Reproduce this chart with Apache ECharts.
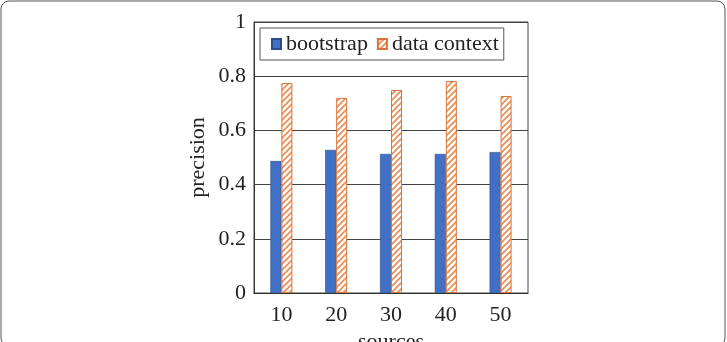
<!DOCTYPE html>
<html>
<head>
<meta charset="utf-8">
<script src="https://cdn.jsdelivr.net/npm/echarts@6/dist/echarts.min.js"></script>
<style>
html, body { margin: 0; padding: 0; background: #fff; }
#chart { width: 727px; height: 342px; }
</style>
</head>
<body>
<div id="chart"></div>
<script>
// data
var sources = ['10', '20', '30', '40', '50'];
var bootstrap = [0.487, 0.528, 0.513, 0.513, 0.520];
var dataContext = [0.775, 0.720, 0.749, 0.782, 0.727];
var yTicks = [0, 0.2, 0.4, 0.6, 0.8, 1];

var FONT = '"Liberation Serif", "DejaVu Serif", serif';

function hatchPattern() {
	var c = document.createElement('canvas');
	c.width = 6;
	c.height = 6;
	var ctx = c.getContext('2d');
	ctx.fillStyle = '#ffffff';
	ctx.fillRect(0, 0, 6, 6);
	ctx.strokeStyle = '#ee8a4e';
	ctx.lineWidth = 1.6;
	ctx.beginPath();
	ctx.moveTo(-1, 7); ctx.lineTo(7, -1);
	ctx.moveTo(-4, 4); ctx.lineTo(4, -4);
	ctx.moveTo(2, 10); ctx.lineTo(10, 2);
	ctx.stroke();
	return c;
}

var chart = echarts.init(document.getElementById('chart'));
var option = {
	animation : false,
	graphic : [ {
		type : 'rect',
		shape : { x : 1, y : 1, width : 724, height : 345, r : 8 },
		style : { fill : 'none', stroke : '#555', lineWidth : 1 },
		silent : true
	} ],
	legend : {
		left : 260,
		top : 28,
		padding : [ 5, 5, 5, 11 ],
		borderColor : '#555',
		borderWidth : 1,
		icon : 'rect',
		itemWidth : 9,
		itemHeight : 10,
		itemGap : 9,
		textStyle : { fontFamily : FONT, fontSize : 22, color : '#222' },
		data : [ 'bootstrap', 'data context' ]
	},
	grid : {
		left : 254,
		right : 199,
		top : 22,
		bottom : 49,
		outerBoundsMode : 'none',
		containLabel : false,
		show : true,
		borderColor : '#444',
		borderWidth : 1
	},
	xAxis : {
		type : 'category',
		data : sources,
		name : 'sources',
		nameLocation : 'middle',
		nameGap : 38,
		nameTextStyle : { fontFamily : FONT, fontSize : 22, color : '#222', verticalAlign : 'top' },
		nameMoveOverlap : false,
		axisLine : { lineStyle : { color : '#333' } },
		axisTick : { show : false },
		axisLabel : { fontFamily : FONT, fontSize : 22, color : '#222', margin : 11 }
	},
	yAxis : {
		type : 'value',
		min : yTicks[0],
		max : yTicks[yTicks.length - 1],
		interval : 0.2,
		name : 'precision',
		nameLocation : 'middle',
		nameGap : 45,
		nameTextStyle : { fontFamily : FONT, fontSize : 22, color : '#222' },
		nameMoveOverlap : false,
		axisLine : { show : true, lineStyle : { color : '#333' } },
		axisTick : { show : false },
		splitLine : { lineStyle : { color : '#444', width : 1 } },
		axisLabel : {
			fontFamily : FONT, fontSize : 22, color : '#222', margin : 8,
			formatter : function (v) { return String(Math.round(v * 10) / 10); }
		}
	},
	series : [ {
		name : 'bootstrap',
		type : 'bar',
		barWidth : 11,
		barGap : '0%',
		data : bootstrap,
		itemStyle : { color : '#4270c4', borderColor : '#2c4c8c', borderWidth : 0.6 }
	}, {
		name : 'data context',
		type : 'bar',
		barWidth : 11,
		data : dataContext,
		itemStyle : {
			color : { image : hatchPattern(), repeat : 'repeat' },
			borderColor : '#d8733a',
			borderWidth : 1
		}
	} ]
};
chart.setOption(option, true);
</script>
</body>
</html>
